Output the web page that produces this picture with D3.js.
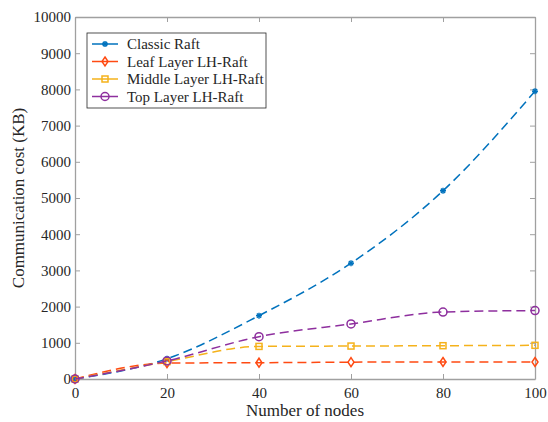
<!DOCTYPE html>
<html>
<head>
<meta charset="utf-8">
<script src="https://cdn.jsdelivr.net/npm/d3@7"></script>
<style>
  body { margin: 0; background: #fff; }
  svg text { font-family: "Liberation Serif", serif !important; fill: #262626; }
</style>
</head>
<body>
<div class="canvas"></div>
<script>
// data
const nodes = [0, 20, 40, 60, 80, 100];
const classicRaft = [0, 560, 1750, 3200, 5200, 7950];
const leafLayer   = [0, 440, 450, 465, 470, 470];
const middleLayer = [0, 480, 900, 910, 920, 930];
const topLayer    = [0, 500, 1170, 1520, 1850, 1890];
const xTicks = [0, 20, 40, 60, 80, 100];
const yTicks = [0, 1000, 2000, 3000, 4000, 5000, 6000, 7000, 8000, 9000, 10000];

const seriesNames = ['Classic Raft', 'Leaf Layer LH-Raft', 'Middle Layer LH-Raft', 'Top Layer LH-Raft'];
const seriesValues = [classicRaft, leafLayer, middleLayer, topLayer];
const seriesColors = ['#0072BD', '#FF4A12', '#F5B21B', '#8E2F9E'];
const seriesMarkers = ['star', 'diamond', 'square', 'circle'];

const serif = '"Liberation Serif", serif';
const width = 548, height = 422;
const margin = { top: 17, right: 13, bottom: 43, left: 75 };
const graphWidth = width - margin.left - margin.right;
const graphHeight = height - margin.top - margin.bottom;

const svg = d3.select('.canvas').append('svg')
    .attr('width', width)
    .attr('height', height)
    .attr('font-family', serif);

const graph = svg.append('g')
    .attr('transform', `translate(${margin.left}, ${margin.top})`);

const x = d3.scaleLinear().domain([0, 100]).range([0, graphWidth]);
const y = d3.scaleLinear().domain([0, 10000]).range([graphHeight, 0]);

const axisColor = '#a0a0a0';
const tickLen = 5;

// axes (ticks inward, box on all sides)
function styleAxis(g) {
    g.attr('font-family', serif).attr('font-size', 15);
    g.select('.domain').attr('stroke', axisColor).attr('stroke-width', 1.3);
    g.selectAll('.tick line').attr('stroke', axisColor).attr('stroke-width', 1);
    g.selectAll('.tick text').attr('fill', '#262626');
}

graph.append('g')
    .attr('transform', `translate(0, ${graphHeight})`)
    .call(d3.axisBottom(x).tickValues(xTicks).tickFormat(d3.format('d')).tickSizeInner(-tickLen).tickSizeOuter(0).tickPadding(8))
    .call(styleAxis);

graph.append('g')
    .call(d3.axisLeft(y).tickValues(yTicks).tickFormat(d3.format('d')).tickSizeInner(-tickLen).tickSizeOuter(0).tickPadding(4))
    .call(styleAxis);

graph.append('g')
    .call(d3.axisTop(x).tickValues(xTicks).tickSizeInner(-tickLen).tickSizeOuter(0).tickFormat(''))
    .call(styleAxis);

graph.append('g')
    .attr('transform', `translate(${graphWidth}, 0)`)
    .call(d3.axisRight(y).tickValues(yTicks).tickSizeInner(-tickLen).tickSizeOuter(0).tickFormat(''))
    .call(styleAxis);

// axis titles
svg.append('text')
    .attr('x', margin.left + graphWidth / 2)
    .attr('y', height - 6)
    .attr('text-anchor', 'middle')
    .attr('font-size', 17)
    .text('Number of nodes');

svg.append('text')
    .attr('transform', `translate(24, ${margin.top + graphHeight / 2}) rotate(-90)`)
    .attr('text-anchor', 'middle')
    .attr('font-size', 17)
    .text('Communication cost (KB)');

// marker drawing
function drawMarker(g, type, color, cx, cy) {
    if (type === 'star') {
        const r = 3;
        [0, 45, 90, 135].forEach(a => {
            const rad = a * Math.PI / 180;
            g.append('line')
                .attr('x1', cx - r * Math.cos(rad)).attr('y1', cy - r * Math.sin(rad))
                .attr('x2', cx + r * Math.cos(rad)).attr('y2', cy + r * Math.sin(rad))
                .attr('stroke', color).attr('stroke-width', 1.5);
        });
    } else if (type === 'diamond') {
        const r = 4.5;
        g.append('path')
            .attr('d', `M${cx},${cy - r}L${cx + 3},${cy}L${cx},${cy + r}L${cx - 3},${cy}Z`)
            .attr('fill', 'none').attr('stroke', color).attr('stroke-width', 1.5);
    } else if (type === 'square') {
        g.append('rect')
            .attr('x', cx - 3).attr('y', cy - 3)
            .attr('width', 6).attr('height', 6)
            .attr('fill', 'none').attr('stroke', color).attr('stroke-width', 1.5);
    } else {
        g.append('circle')
            .attr('cx', cx).attr('cy', cy).attr('r', 4)
            .attr('fill', 'none').attr('stroke', color).attr('stroke-width', 1.5);
    }
}

const line = d3.line()
    .x((d, i) => x(nodes[i]))
    .y(d => y(d))
    .curve(d3.curveMonotoneX);

// draw series
seriesValues.forEach((vals, s) => {
    const g = graph.append('g');
    g.append('path')
        .datum(vals)
        .attr('d', line)
        .attr('fill', 'none')
        .attr('stroke', seriesColors[s])
        .attr('stroke-width', 1.5)
        .attr('stroke-dasharray', '9,5');
    vals.forEach((v, i) => drawMarker(g, seriesMarkers[s], seriesColors[s], x(nodes[i]), y(v)));
});

// legend
const legend = svg.append('g').attr('transform', 'translate(87, 33)');
legend.append('rect')
    .attr('width', 179).attr('height', 75)
    .attr('fill', '#fff').attr('stroke', '#262626').attr('stroke-width', 0.8);

seriesNames.forEach((name, s) => {
    const ly = 11 + s * 17.5;
    legend.append('line')
        .attr('x1', 5).attr('x2', 31)
        .attr('y1', ly).attr('y2', ly)
        .attr('stroke', seriesColors[s]).attr('stroke-width', 1.5);
    drawMarker(legend, seriesMarkers[s], seriesColors[s], 18, ly);
    legend.append('text')
        .attr('x', 40).attr('y', ly + 5)
        .attr('font-size', 15)
        .text(name);
});
</script>
</body>
</html>
